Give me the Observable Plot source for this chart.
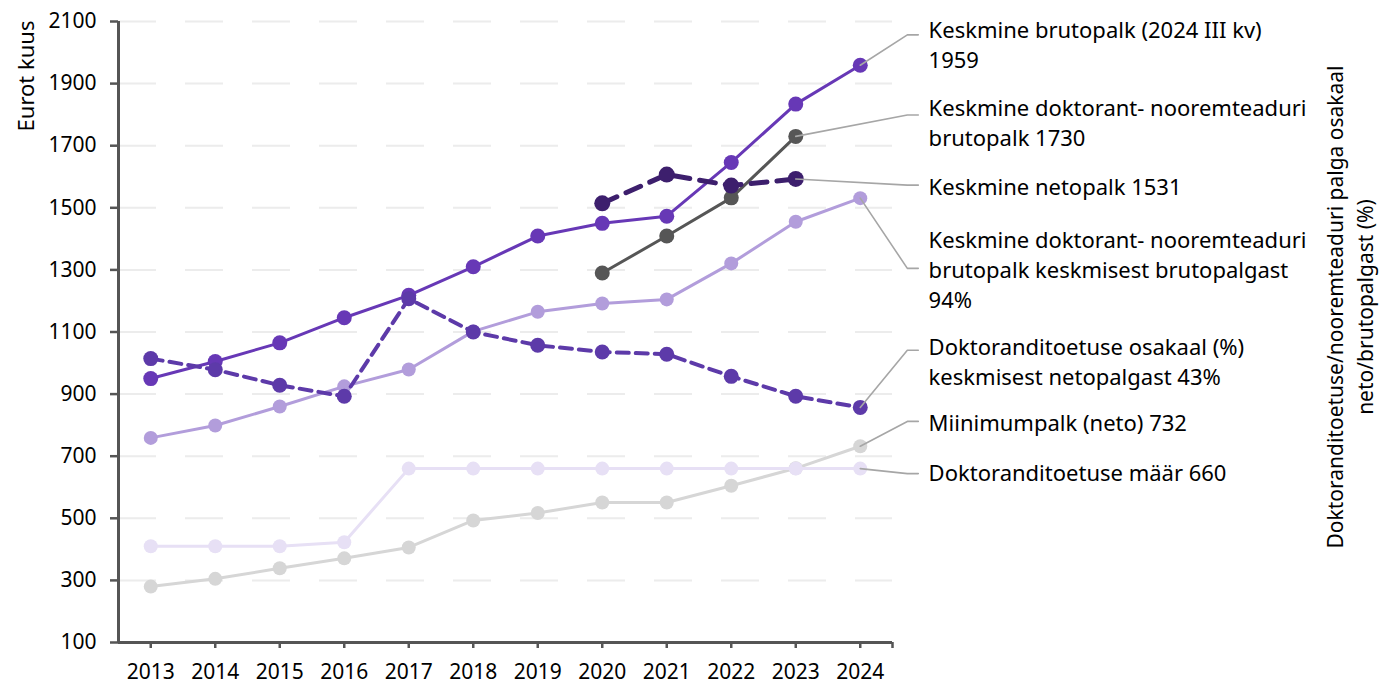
<!DOCTYPE html>
<html>
<head>
<meta charset="utf-8">
<script src="https://cdn.jsdelivr.net/npm/d3@7"></script>
<script src="https://cdn.jsdelivr.net/npm/@observablehq/plot@0.6"></script>
<style>
  html, body { margin: 0; padding: 0; background: #fff; overflow: hidden; }
  #chart svg { display: block; }
</style>
</head>
<body>
<div id="chart"></div>
<script>
// ---- data ----
const years = [2013, 2014, 2015, 2016, 2017, 2018, 2019, 2020, 2021, 2022, 2023, 2024];
const keskmineBrutopalk   = [950, 1005, 1065, 1146, 1218, 1310, 1409, 1450, 1473, 1646, 1834, 1959];
const doktorantBrutopalk  = [null, null, null, null, null, null, null, 1290, 1409, 1532, 1730, null];
const keskmineNetopalk    = [759, 799, 860, 925, 979, 1102, 1165, 1192, 1205, 1321, 1455, 1531];
const doktoranditoetus    = [410, 410, 410, 423, 660, 660, 660, 660, 660, 660, 660, 660];
const miinimumpalkNeto    = [280, 305, 339, 371, 406, 493, 517, 551, 551, 605, 661, 732];
// percentages, on the (unlabelled) secondary axis
const toetusOsakaalPct    = [54, 51.5, 48, 45.5, 67.5, 60, 57, 55.5, 55, 50, 45.5, 43];
const doktorantOsakaalPct = [null, null, null, null, null, null, null, 89, 95.5, 93, 94.5, null];
const yTicks = [100, 300, 500, 700, 900, 1100, 1300, 1500, 1700, 1900, 2100];
const yDomain = [100, 2100];
const pctDomain = [-10, 130];

// ---- series styling ----
const series = [
  {name: "Miinimumpalk (neto)", values: miinimumpalkNeto, color: "#d6d6d6", width: 3, dash: null, r: 7},
  {name: "Doktoranditoetuse määr", values: doktoranditoetus, color: "#e7e0f5", width: 3, dash: null, r: 7},
  {name: "Keskmine netopalk", values: keskmineNetopalk, color: "#b29ddb", width: 3, dash: null, r: 7},
  {name: "Keskmine doktorant-nooremteaduri brutopalk", values: doktorantBrutopalk, color: "#565656", width: 3, dash: null, r: 7.5},
  {name: "Keskmine brutopalk", values: keskmineBrutopalk, color: "#6738b6", width: 3, dash: null, r: 7.5},
  {name: "Doktoranditoetuse osakaal netopalgast", values: toetusOsakaalPct, pct: true, color: "#5d3aa9", width: 4, dash: "12,7", r: 7.5},
  {name: "Doktorant palk keskmisest brutopalgast", values: doktorantOsakaalPct, pct: true, color: "#3d1f6d", width: 5, dash: "16,10", r: 8}
];

const pctToY = d3.scaleLinear(pctDomain, yDomain);

const rowsFor = s => years.map((year, i) => ({
  series: s.name, year,
  v: s.values[i] == null ? null : (s.pct ? pctToY(s.values[i]) : s.values[i])
}));
const valueAt = (idx, year) => rowsFor(series[idx]).find(d => d.year === year).v;

// ---- annotation layout (data units) ----
const bendX = 2024.73, endX = 2024.9, textX = 2025.06;
const labels = [
  {text: "Keskmine brutopalk (2024 III kv)\n1959", s: 4, year: 2024, bendY: 2057, top: 2114},
  {text: "Keskmine doktorant- nooremteaduri\nbrutopalk 1730", s: 3, year: 2023, bendY: 1799, top: 1865},
  {text: "Keskmine netopalk 1531", s: 6, year: 2023, bendY: 1573, top: 1610},
  {text: "Keskmine doktorant- nooremteaduri\nbrutopalk keskmisest brutopalgast\n94%", s: 2, year: 2024, bendY: 1305, top: 1439},
  {text: "Doktoranditoetuse osakaal (%)\nkeskmisest netopalgast 43%", s: 5, year: 2024, bendY: 1041, top: 1094},
  {text: "Miinimumpalk (neto) 732", s: 0, year: 2024, bendY: 812, top: 849},
  {text: "Doktoranditoetuse määr 660", s: 1, year: 2024, bendY: 644, top: 688}
];
const leaderRows = labels.flatMap((l, i) => [
  {id: i, x: l.year, y: valueAt(l.s, l.year)},
  {id: i, x: bendX, y: l.bendY},
  {id: i, x: endX, y: l.bendY}
]);

const seriesMarks = series.flatMap(s => {
  const rows = rowsFor(s);
  return [
    Plot.line(rows, {x: "year", y: "v", stroke: s.color, strokeWidth: s.width,
      strokeDasharray: s.dash || undefined, strokeLinecap: s.dash ? "round" : "butt", curve: "linear"}),
    Plot.dot(rows.filter(d => d.v != null), {x: "year", y: "v", r: s.r, fill: s.color, stroke: "none"})
  ];
});

const chart = Plot.plot({
  width: 1388,
  height: 686,
  marginLeft: 118,
  marginRight: 496,
  marginTop: 21,
  marginBottom: 44,
  x: {domain: [2012.5, 2024.5]},
  y: {domain: yDomain},
  style: {fontFamily: "'Noto Sans', sans-serif", fontSize: "21px", color: "#000", background: "#fff", overflow: "visible"},
  marks: [
    Plot.gridY({ticks: yTicks.slice(1), stroke: "#ececec", strokeOpacity: 1, strokeWidth: 2, strokeDasharray: "38,29"}),
    ...seriesMarks,
    Plot.line(leaderRows, {x: "x", y: "y", z: "id", stroke: "#a6a6a6", strokeWidth: 1.6, clip: false}),
    Plot.text(labels, {x: () => textX, y: "top", text: "text", textAnchor: "start", lineAnchor: "top",
      lineHeight: 1.36, fontSize: 22, fill: "#000", clip: false}),
    // axes
    Plot.axisY({ticks: yTicks, tickSize: 8, tickPadding: 14, stroke: "#555", strokeWidth: 2.5,
      tickFormat: d => String(d), fontSize: 21, fill: "#000", label: null}),
    Plot.axisX({ticks: years, tickSize: 6, tickPadding: 16, stroke: "#555", strokeWidth: 2.5,
      tickFormat: d => String(d), fontSize: 21, fill: "#000", label: null}),
    Plot.axisX({ticks: [2024.5], tickSize: 6, stroke: "#555", strokeWidth: 2.5, tickFormat: () => "", label: null}),
    Plot.ruleY([100], {stroke: "#555", strokeWidth: 3}),
    Plot.ruleX([2012.5], {stroke: "#555", strokeWidth: 3}),
    // axis titles
    Plot.text(["Eurot kuus"], {frameAnchor: "top-left", dx: -100, dy: -1, rotate: -90, textAnchor: "end",
      fontSize: 22, fill: "#000"}),
    Plot.text(["Doktoranditoetuse/nooremteaduri palga osakaal\nneto/brutopalgast (%)"],
      {frameAnchor: "right", dx: 456, dy: -25, rotate: -90, textAnchor: "middle", lineAnchor: "middle",
       lineHeight: 1.45, fontSize: 21, fill: "#000"})
  ]
});
document.getElementById("chart").append(chart);
</script>
</body>
</html>
